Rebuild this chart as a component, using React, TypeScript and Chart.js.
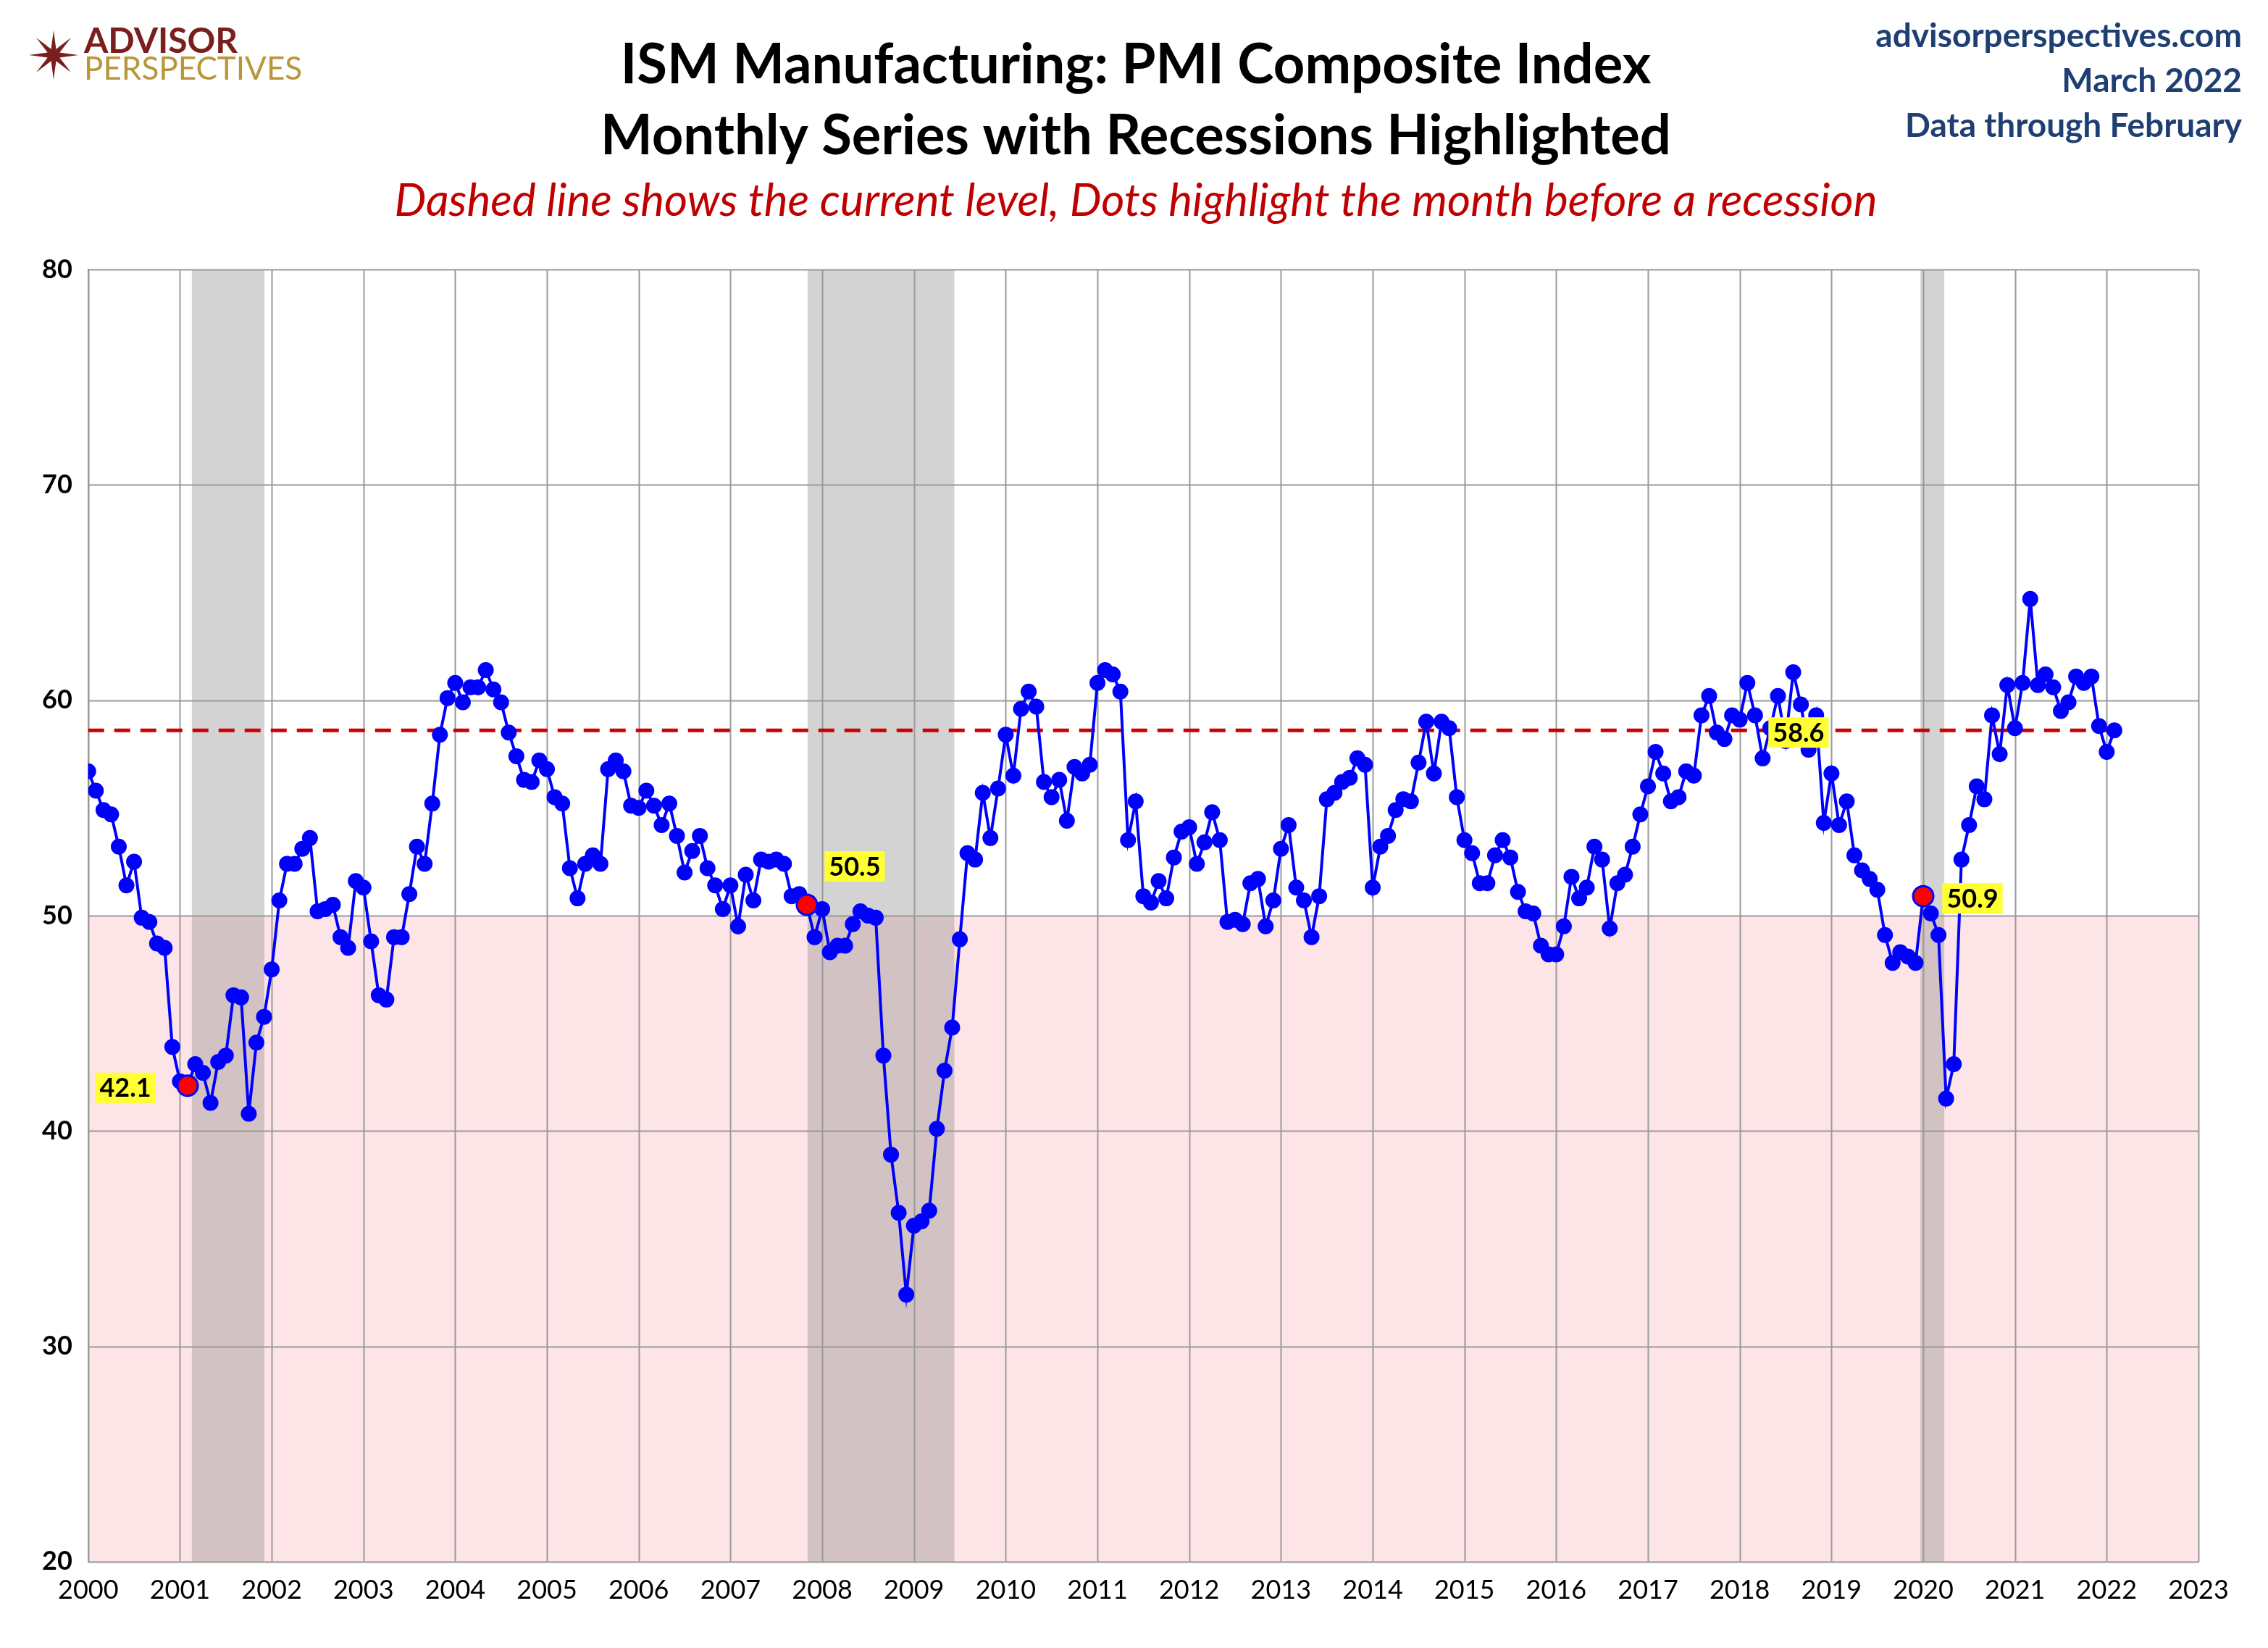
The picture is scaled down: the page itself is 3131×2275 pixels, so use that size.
import { useEffect, useRef } from "react";
import Chart from "chart.js/auto";

const startYear = 2000;
const pmi: number[] = [
  // 2000
  56.7, 55.8, 54.9, 54.7, 53.2, 51.4, 52.5, 49.9, 49.7, 48.7, 48.5, 43.9,
  // 2001
  42.3, 42.1, 43.1, 42.7, 41.3, 43.2, 43.5, 46.3, 46.2, 40.8, 44.1, 45.3,
  // 2002
  47.5, 50.7, 52.4, 52.4, 53.1, 53.6, 50.2, 50.3, 50.5, 49.0, 48.5, 51.6,
  // 2003
  51.3, 48.8, 46.3, 46.1, 49.0, 49.0, 51.0, 53.2, 52.4, 55.2, 58.4, 60.1,
  // 2004
  60.8, 59.9, 60.6, 60.6, 61.4, 60.5, 59.9, 58.5, 57.4, 56.3, 56.2, 57.2,
  // 2005
  56.8, 55.5, 55.2, 52.2, 50.8, 52.4, 52.8, 52.4, 56.8, 57.2, 56.7, 55.1,
  // 2006
  55.0, 55.8, 55.1, 54.2, 55.2, 53.7, 52.0, 53.0, 53.7, 52.2, 51.4, 50.3,
  // 2007
  51.4, 49.5, 51.9, 50.7, 52.6, 52.5, 52.6, 52.4, 50.9, 51.0, 50.5, 49.0,
  // 2008
  50.3, 48.3, 48.6, 48.6, 49.6, 50.2, 50.0, 49.9, 43.5, 38.9, 36.2, 32.4,
  // 2009
  35.6, 35.8, 36.3, 40.1, 42.8, 44.8, 48.9, 52.9, 52.6, 55.7, 53.6, 55.9,
  // 2010
  58.4, 56.5, 59.6, 60.4, 59.7, 56.2, 55.5, 56.3, 54.4, 56.9, 56.6, 57.0,
  // 2011
  60.8, 61.4, 61.2, 60.4, 53.5, 55.3, 50.9, 50.6, 51.6, 50.8, 52.7, 53.9,
  // 2012
  54.1, 52.4, 53.4, 54.8, 53.5, 49.7, 49.8, 49.6, 51.5, 51.7, 49.5, 50.7,
  // 2013
  53.1, 54.2, 51.3, 50.7, 49.0, 50.9, 55.4, 55.7, 56.2, 56.4, 57.3, 57.0,
  // 2014
  51.3, 53.2, 53.7, 54.9, 55.4, 55.3, 57.1, 59.0, 56.6, 59.0, 58.7, 55.5,
  // 2015
  53.5, 52.9, 51.5, 51.5, 52.8, 53.5, 52.7, 51.1, 50.2, 50.1, 48.6, 48.2,
  // 2016
  48.2, 49.5, 51.8, 50.8, 51.3, 53.2, 52.6, 49.4, 51.5, 51.9, 53.2, 54.7,
  // 2017
  56.0, 57.6, 56.6, 55.3, 55.5, 56.7, 56.5, 59.3, 60.2, 58.5, 58.2, 59.3,
  // 2018
  59.1, 60.8, 59.3, 57.3, 58.7, 60.2, 58.1, 61.3, 59.8, 57.7, 59.3, 54.3,
  // 2019
  56.6, 54.2, 55.3, 52.8, 52.1, 51.7, 51.2, 49.1, 47.8, 48.3, 48.1, 47.8,
  // 2020
  50.9, 50.1, 49.1, 41.5, 43.1, 52.6, 54.2, 56.0, 55.4, 59.3, 57.5, 60.7,
  // 2021
  58.7, 60.8, 64.7, 60.7, 61.2, 60.6, 59.5, 59.9, 61.1, 60.8, 61.1, 58.8,
  // 2022
  57.6, 58.6,
];

// recession periods as [start, end] in fractional years
const recessions: [number, number][] = [
  [2001.13, 2001.92],
  [2007.84, 2009.44],
  [2019.97, 2020.23],
];
// indices of months before a recession, with label placement
const preRecession = [
  { idx: 13, dx: -86, dy: 4 },
  { idx: 94, dx: 66, dy: -52 },
  { idx: 240, dx: 68, dy: 4 },
];
const yTicks = [20, 30, 40, 50, 60, 70, 80];

const FONT = "Lato, 'Open Sans', sans-serif";

const toX = (i: number) => startYear + i / 12;

const decorPlugin = {
  id: "decor",
  beforeDatasetsDraw(chart: any) {
    const { ctx, chartArea: a, scales } = chart;
    const x = scales.x, y = scales.y;
    ctx.save();
    ctx.fillStyle = "#FDE4E6";
    const y50 = y.getPixelForValue(50);
    ctx.fillRect(a.left, y50, a.right - a.left, a.bottom - y50);
    ctx.fillStyle = "rgba(140,140,140,0.38)";
    for (const [s, e] of recessions) {
      const x0 = x.getPixelForValue(s), x1 = x.getPixelForValue(e);
      ctx.fillRect(x0, a.top, x1 - x0, a.bottom - a.top);
    }
    ctx.strokeStyle = "#9A9A9A";
    ctx.lineWidth = 2;
    for (let yr = 2000; yr <= 2023; yr++) {
      const px = Math.round(x.getPixelForValue(yr)) + 0.5;
      ctx.beginPath(); ctx.moveTo(px, a.top); ctx.lineTo(px, a.bottom); ctx.stroke();
    }
    for (const t of yTicks) {
      const py = Math.round(y.getPixelForValue(t)) + 0.5;
      ctx.beginPath(); ctx.moveTo(a.left, py); ctx.lineTo(a.right, py); ctx.stroke();
    }
    ctx.restore();
  },
  afterDatasetsDraw(chart: any) {
    const { ctx, scales } = chart;
    const x = scales.x, y = scales.y;
    ctx.save();
    ctx.font = `bold 36px ${FONT}`;
    ctx.textAlign = "center";
    ctx.textBaseline = "middle";
    const label = (px: number, py: number, txt: string) => {
      const w = ctx.measureText(txt).width + 12;
      ctx.fillStyle = "#FFFF33";
      ctx.fillRect(px - w / 2, py - 22, w, 42);
      ctx.fillStyle = "#000";
      ctx.fillText(txt, px, py);
    };
    for (const p of preRecession) {
      const px = x.getPixelForValue(toX(p.idx));
      const py = y.getPixelForValue(pmi[p.idx]);
      label(px + p.dx, py + p.dy, pmi[p.idx].toFixed(1));
    }
    const last = pmi.length - 1;
    label(x.getPixelForValue(toX(last)) - 436, y.getPixelForValue(pmi[last]) + 4, pmi[last].toFixed(1));

    const W = chart.width;
    ctx.fillStyle = "#000";
    ctx.font = `bold 76px ${FONT}`;
    ctx.fillText("ISM Manufacturing: PMI Composite Index", 1568, 90);
    ctx.fillText("Monthly Series with Recessions Highlighted", 1568, 188);
    ctx.fillStyle = "#C00000";
    ctx.font = `italic 62px ${FONT}`;
    ctx.fillText("Dashed line shows the current level, Dots highlight the month before a recession", 1568, 278);
    ctx.fillStyle = "#1F3F73";
    ctx.textAlign = "right";
    ctx.font = `bold 46px ${FONT}`;
    ctx.fillText("advisorperspectives.com", W - 36, 50);
    ctx.fillText("March 2022", W - 36, 112);
    ctx.fillText("Data through February", W - 36, 174);
    ctx.textAlign = "left";
    const cx = 74, cy = 76;
    ctx.fillStyle = "#7A1E1E";
    ctx.beginPath();
    for (let k = 0; k < 16; k++) {
      const r = k % 2 === 0 ? 34 : 9;
      const ang = (k * Math.PI) / 8 - Math.PI / 2;
      const px = cx + r * Math.cos(ang), py = cy + r * Math.sin(ang);
      if (k === 0) ctx.moveTo(px, py); else ctx.lineTo(px, py);
    }
    ctx.closePath();
    ctx.fill();
    ctx.font = `bold 48px ${FONT}`;
    ctx.fillStyle = "#7A1E1E";
    ctx.fillText("ADVISOR", 116, 58);
    ctx.font = `44px ${FONT}`;
    ctx.fillStyle = "#B8963A";
    ctx.fillText("PERSPECTIVES", 116, 96);
    ctx.restore();
  },
};

export default function App() {
  const ref = useRef<HTMLCanvasElement | null>(null);

  useEffect(() => {
    document.body.style.margin = "0";
    if (!ref.current) return;
    const series = pmi.map((v, i) => ({ x: toX(i), y: v }));
    const dots = preRecession.map((p) => ({ x: toX(p.idx), y: pmi[p.idx] }));
    const last = pmi[pmi.length - 1];
    const chart = new Chart(ref.current, {
      type: "scatter",
      data: {
        datasets: [
          {
            data: dots,
            backgroundColor: "#FF0000",
            borderColor: "#0000FF",
            borderWidth: 3,
            pointRadius: 14,
            showLine: false,
            order: 0,
          },
          {
            data: series,
            showLine: true,
            borderColor: "#0000FF",
            backgroundColor: "#0000FF",
            borderWidth: 4,
            pointRadius: 9,
            order: 1,
          },
          {
            data: [{ x: 2000, y: last }, { x: toX(pmi.length - 1), y: last }],
            showLine: true,
            borderColor: "#CC0000",
            borderWidth: 5,
            borderDash: [22, 14],
            pointRadius: 0,
            order: 2,
          },
        ],
      },
      options: {
        animation: false,
        responsive: false,
        layout: { padding: { top: 372, right: 96, left: 44, bottom: 48 } },
        plugins: { legend: { display: false }, tooltip: { enabled: false } },
        scales: {
          x: {
            type: "linear",
            min: 2000,
            max: 2023,
            grid: { display: false },
            border: { color: "#888", width: 2 },
            ticks: {
              stepSize: 1,
              color: "#000",
              font: { family: FONT, size: 36 },
              callback: (v: any) => String(v),
              padding: 10,
            },
          },
          y: {
            min: 20,
            max: 80,
            grid: { display: false },
            border: { color: "#888", width: 2 },
            ticks: {
              stepSize: 10,
              color: "#000",
              font: { family: FONT, size: 36, weight: "bold" },
              padding: 14,
            },
          },
        },
      },
      plugins: [decorPlugin],
    });
    return () => chart.destroy();
  }, []);

  return (
    <div style={{ width: 3131, height: 2275, background: "#fff" }}>
      <canvas ref={ref} width={3131} height={2275} style={{ width: 3131, height: 2275 }} />
    </div>
  );
}
